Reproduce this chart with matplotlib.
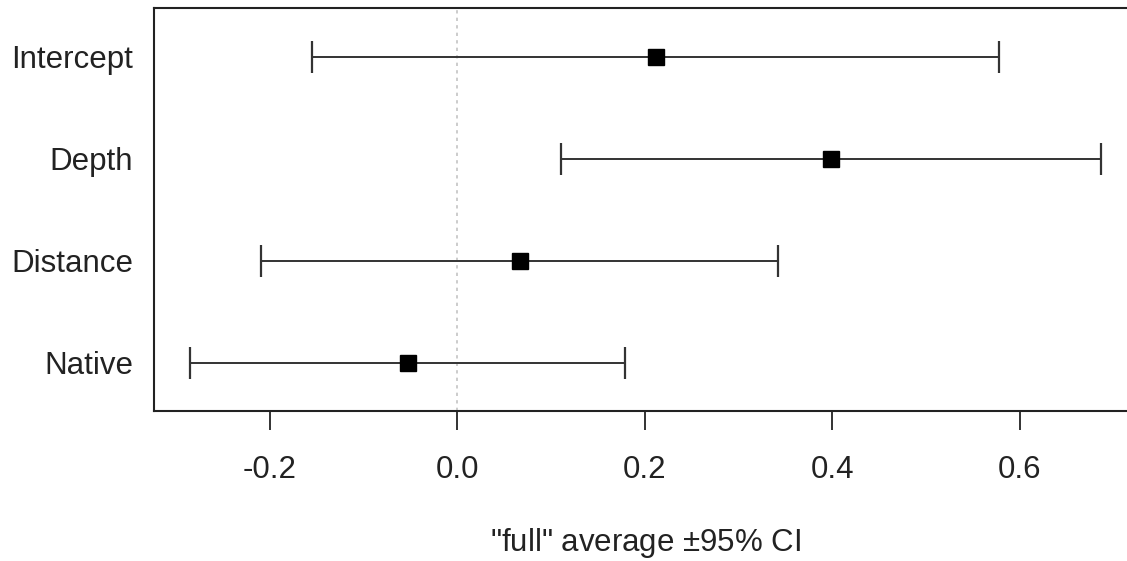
import matplotlib
matplotlib.use('Agg')
import matplotlib.pyplot as plt

# model-averaged coefficients ("full" average) with 95% CI
terms = ['Intercept', 'Depth', 'Distance', 'Native']
estimates = [0.212, 0.398, 0.067, -0.053]
lower_ci = [-0.155, 0.110, -0.210, -0.285]
upper_ci = [0.578, 0.687, 0.342, 0.179]
x_ticks = [-0.2, 0.0, 0.2, 0.4, 0.6]
x_label = '"full" average $\\pm$95% CI'

plt.rcParams['font.family'] = ['Liberation Sans', 'DejaVu Sans']
plt.rcParams['mathtext.fontset'] = 'custom'
plt.rcParams['mathtext.rm'] = 'Liberation Sans'


def draw_coef_plot():
	fig = plt.figure(figsize=(11.27, 5.61), dpi=100)
	ax = fig.add_axes([0.1366, 0.2665, 0.873, 0.7195])

	ypos = list(range(len(terms), 0, -1))
	xerr = [[e - lo for e, lo in zip(estimates, lower_ci)],
			[hi - e for e, hi in zip(estimates, upper_ci)]]

	ax.axvline(0, color='#c4c4c4', lw=1.2, ls=(0, (2, 2.5)), zorder=1)
	ax.errorbar(estimates, ypos, xerr=xerr, fmt='s', color='black',
				ecolor='#333333', elinewidth=1.4, capsize=11.5, capthick=1.6,
				markersize=11, zorder=3)

	span = max(upper_ci) - min(lower_ci)
	ax.set_xlim(min(lower_ci) - 0.04 * span, max(upper_ci) + 0.04 * span)
	ax.set_ylim(0.52, 4.48)

	ax.set_xticks(x_ticks)
	ax.set_xticklabels([f'{t:.1f}' for t in x_ticks])
	ax.set_yticks(ypos)
	ax.set_yticklabels(terms)
	ax.tick_params(axis='x', length=13.5, width=1.4, pad=18, labelsize=22.5,
				   color='#333333', labelcolor='#222222')
	ax.tick_params(axis='y', length=0, pad=15, labelsize=22.5, labelcolor='#222222')
	ax.set_xlabel(x_label, fontsize=22.5, color='#222222', labelpad=29)

	for name, spine in ax.spines.items():
		spine.set_linewidth(1.5)
		spine.set_color('#222222')
	ax.spines['right'].set_visible(False)

	fig.savefig('out.png', dpi=100)


if __name__ == '__main__':
	draw_coef_plot()
